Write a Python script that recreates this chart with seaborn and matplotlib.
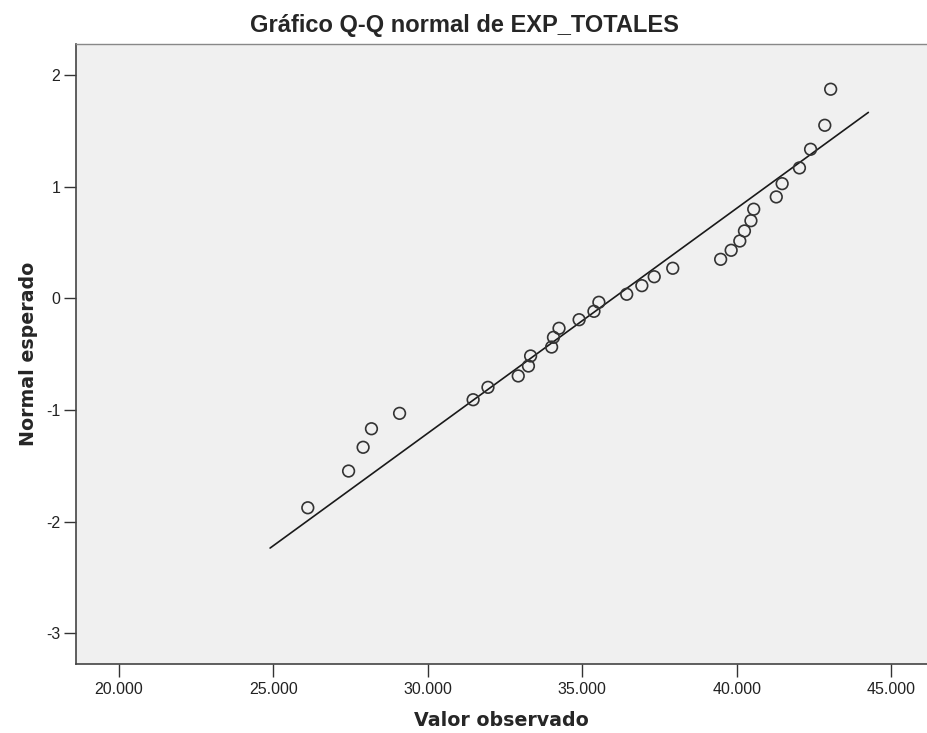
import numpy as np
import pandas as pd
import matplotlib
matplotlib.use("Agg")
import matplotlib.pyplot as plt
import matplotlib.ticker as mticker
import seaborn as sns

observado = [26120, 27440, 27910, 28180, 29090, 31470, 31950, 32930, 33260, 33330,
             34010, 34070, 34250, 34900, 35380, 35540, 36440, 36930, 37330, 37930,
             39480, 39820, 40100, 40250, 40460, 40550, 41280, 41470, 42030, 42390,
             42850, 43040]
esperado = [-1.875, -1.546, -1.333, -1.167, -1.029, -0.907, -0.796, -0.694, -0.605, -0.515,
            -0.435, -0.348, -0.267, -0.190, -0.115, -0.034, 0.038, 0.115, 0.195, 0.271,
            0.351, 0.432, 0.515, 0.605, 0.697, 0.800, 0.910, 1.029, 1.170, 1.337,
            1.552, 1.875]

# recta de referencia normal
media = 35990
desv = 4960
recta_x = [24900, 44260]

x_ticks = [20000, 25000, 30000, 35000, 40000, 45000]
y_ticks = [-3, -2, -1, 0, 1, 2]

df = pd.DataFrame({"obs": observado, "esp": esperado})
df_recta = pd.DataFrame({"x": recta_x})
df_recta["y"] = (df_recta["x"] - media) / desv

sns.set_style("ticks")
plt.rcParams["font.family"] = ["Liberation Sans", "DejaVu Sans"]
plt.rcParams["axes.unicode_minus"] = False

fig = plt.figure(figsize=(9.28, 7.33), dpi=100)
ax = fig.add_axes([0.0816, 0.0941, 0.9184, 0.8463])
ax.set_facecolor("#f0f0f0")

sns.lineplot(data=df_recta, x="x", y="y", color="#1a1a1a", linewidth=1.2, ax=ax)
sns.scatterplot(data=df, x="obs", y="esp", marker="o", s=70, facecolor="none",
                edgecolor="#333333", linewidth=1.2, ax=ax, zorder=3)

ax.set_xlim(18610, 46190)
ax.set_ylim(-3.275, 2.283)
ax.set_xticks(x_ticks)
ax.set_yticks(y_ticks)
ax.xaxis.set_major_formatter(mticker.FuncFormatter(lambda v, p: f"{int(v):,}".replace(",", ".")))
ax.tick_params(axis="both", direction="out", length=9, width=1.0, color="#333333",
               labelsize=11.5, labelcolor="#222222")
ax.tick_params(axis="y", pad=2)
ax.tick_params(axis="x", pad=4)

for lado in ["left", "bottom"]:
    ax.spines[lado].set_color("#444444")
    ax.spines[lado].set_linewidth(1.2)
ax.spines["top"].set_visible(True)
ax.spines["top"].set_color("#888888")
ax.spines["top"].set_linewidth(1.0)
ax.spines["right"].set_visible(False)

ax.set_xlabel("Valor observado", fontsize=13.7, fontweight="bold", family="DejaVu Sans", labelpad=10)
ax.set_ylabel("Normal esperado", fontsize=13.7, fontweight="bold", family="DejaVu Sans", labelpad=6)

fig.text(0.501, 0.957, "Gráfico Q-Q normal de EXP_TOTALES", ha="center", va="baseline",
         fontsize=17, fontweight="bold")

fig.savefig("out.png", dpi=100)
